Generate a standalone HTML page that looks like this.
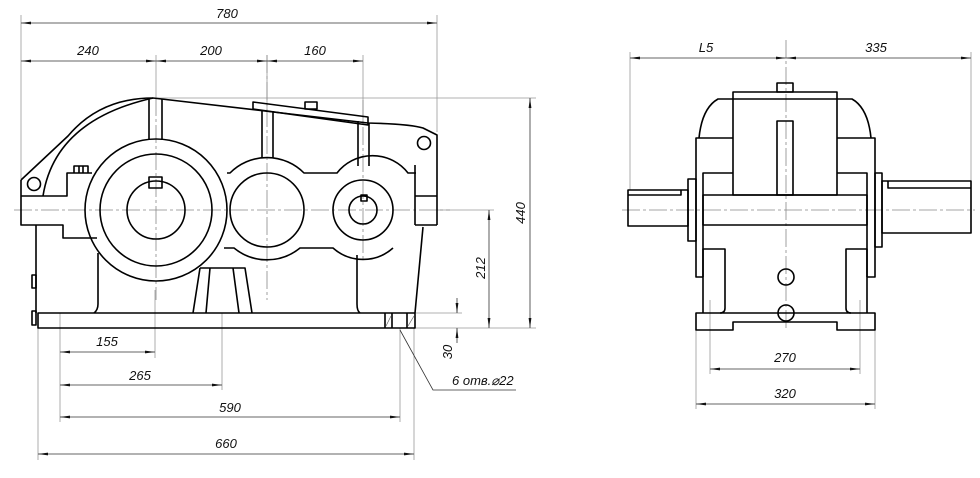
<!DOCTYPE html>
<html><head><meta charset="utf-8"><style>
html,body{margin:0;padding:0;background:#fff;}
svg{display:block}
text{font-family:"Liberation Sans",sans-serif;font-style:italic;font-size:13px;fill:#111}
</style></head><body>
<svg width="980" height="478" viewBox="0 0 980 478" xmlns="http://www.w3.org/2000/svg">
<defs>
<marker id="a" viewBox="0 0 10 4" refX="10" refY="2" markerWidth="10" markerHeight="4" orient="auto-start-reverse" markerUnits="userSpaceOnUse"><path d="M0,0.6 L10,2 L0,3.4z" fill="#111"/></marker>
</defs>
<g stroke="#999" stroke-width="0.8" fill="none">
<line x1="21" y1="15" x2="21" y2="182"/>
<line x1="156" y1="55" x2="156" y2="98"/>
<line x1="267" y1="55" x2="267" y2="110"/>
<line x1="363" y1="55" x2="363" y2="122"/>
<line x1="437" y1="15" x2="437" y2="132"/>
<line x1="155" y1="98" x2="536" y2="98"/>
<line x1="415" y1="328" x2="536" y2="328"/>
<line x1="437" y1="210" x2="494" y2="210"/>
<line x1="416" y1="313" x2="462" y2="313"/>
<line x1="60" y1="313" x2="60" y2="422"/>
<line x1="155" y1="290" x2="155" y2="358"/>
<line x1="222" y1="313" x2="222" y2="390"/>
<line x1="400" y1="328" x2="400" y2="422"/>
<line x1="38" y1="328" x2="38" y2="460"/>
<line x1="414" y1="328" x2="414" y2="460"/>
<line x1="630" y1="52" x2="630" y2="190"/>
<line x1="971" y1="52" x2="971" y2="181"/>
<line x1="710" y1="300" x2="710" y2="374"/>
<line x1="860" y1="300" x2="860" y2="374"/>
<line x1="696" y1="330" x2="696" y2="409"/>
<line x1="875" y1="330" x2="875" y2="409"/>
</g>
<g stroke="#888" stroke-width="0.8" fill="none" stroke-dasharray="18,3,3,3">
<line x1="14" y1="210" x2="450" y2="210"/>
<line x1="156" y1="98" x2="156" y2="300"/>
<line x1="267" y1="55" x2="267" y2="300"/>
<line x1="363" y1="100" x2="363" y2="260"/>
<line x1="786" y1="40" x2="786" y2="330"/>
<line x1="622" y1="210" x2="975" y2="210"/>
</g>
<g stroke="#333" stroke-width="0.8" fill="none" marker-start="url(#a)" marker-end="url(#a)">
<line x1="21" y1="23" x2="437" y2="23"/>
<line x1="21" y1="61" x2="156" y2="61"/>
<line x1="156" y1="61" x2="267" y2="61"/>
<line x1="267" y1="61" x2="363" y2="61"/>
<line x1="530" y1="98" x2="530" y2="328"/>
<line x1="489" y1="210" x2="489" y2="328"/>
<line x1="60" y1="352" x2="155" y2="352"/>
<line x1="60" y1="385" x2="222" y2="385"/>
<line x1="60" y1="417" x2="400" y2="417"/>
<line x1="38" y1="454" x2="414" y2="454"/>
<line x1="630" y1="58" x2="786" y2="58"/>
<line x1="786" y1="58" x2="971" y2="58"/>
<line x1="710" y1="369" x2="860" y2="369"/>
<line x1="696" y1="404" x2="875" y2="404"/>
</g>
<g stroke="#333" stroke-width="0.8" fill="none">
<line x1="457" y1="298" x2="457" y2="313" marker-end="url(#a)"/>
<line x1="457" y1="343" x2="457" y2="328" marker-end="url(#a)"/>
<polyline points="516,390 433,390 400,330"/>
</g>
<g stroke="#000" stroke-width="1.6" fill="none" stroke-linejoin="round">
<path d="M21,180 L68,136 Q100,98 153,98 L368,123 Q410,124 423,128 L437,135 L437,225"/>
<path d="M43,196 Q55,120 153,98"/>
<path d="M21,180 L21,225 L63,225 L63,238 L97,238"/>
<path d="M21,196 L67,196 L67,173 L92,173"/>
<circle cx="34" cy="184" r="6.5"/>
<circle cx="424" cy="143" r="6.5"/>
<path d="M74,173 V166 H88 V173 M79,166 V173 M83,166 V173"/>
<path d="M253,102 L368,117 L368,125 L253,109 Z"/>
<rect x="305" y="102" width="12" height="7"/>
<path d="M149,98 V140 M162,99 V140"/>
<path d="M262,110 V158 M273,111 V158"/>
<path d="M358,121 V166 M369,123 V166"/>
<circle cx="156" cy="210" r="71"/>
<circle cx="156" cy="210" r="56"/>
<circle cx="156" cy="210" r="29"/>
<rect x="149" y="177" width="13" height="11"/>
<path d="M227,173 H230 A52,52 0 0 1 304,173 H337 A45,45 0 0 1 408,173 H416"/>
<path d="M224,248 H234 A52,52 0 0 0 300,248 H333 A45,45 0 0 0 393,248"/>
<circle cx="267" cy="210" r="37"/>
<circle cx="363" cy="210" r="30"/>
<circle cx="363" cy="210" r="14"/>
<rect x="361" y="195" width="6" height="6"/>
<path d="M415,196 H437 M415,225 H437 M415,165 V225"/>
<path d="M423,227 L415,313"/>
<path d="M36,225 V313"/>
<path d="M98,253 V304 Q98,310 94,313"/>
<path d="M357,255 V304 Q357,311 360,313"/>
<path d="M200,268 H245 L252,313 M200,268 L193,313 M210,268 L206,313 M233,268 L239,313"/>
<rect x="38" y="313" width="377" height="15"/>
<path d="M385,313 V328 M392,313 V328 M407,313 V328"/>
<rect x="32" y="275" width="4" height="13"/>
<rect x="32" y="311" width="4" height="14"/>
</g>
<g stroke="#666" stroke-width="0.7"><line x1="386" y1="326" x2="391" y2="316"/><line x1="408" y1="326" x2="414" y2="316"/></g>
<g stroke="#000" stroke-width="1.6" fill="none" stroke-linejoin="round">
<rect x="777" y="83" width="16" height="9"/>
<rect x="733" y="92" width="104" height="103"/>
<path d="M699,138 Q702,108 718,99 H852 Q868,108 871,138"/>
<path d="M733,138 H696 V277 H703 M703,277 V173 H733"/>
<path d="M837,138 H875 V277 H867 M867,277 V173 H837"/>
<rect x="703" y="195" width="164" height="30"/>
<rect x="777" y="121" width="16" height="74"/>
<rect x="688" y="179" width="8" height="62"/>
<rect x="875" y="173" width="7" height="74"/>
<rect x="628" y="190" width="60" height="36"/>
<path d="M628,195 H681 V190"/>
<rect x="882" y="181" width="89" height="52"/>
<path d="M888,181 V188 H971"/>
<path d="M703,313 V249 H725 V308 Q725,313 720,313"/>
<path d="M867,313 V249 H846 V308 Q846,313 851,313"/>
<path d="M696,313 V330 H733 V322 H837 V330 H875 V313 Z"/>
<circle cx="786" cy="277" r="8"/>
<circle cx="786" cy="313" r="8"/>
</g>
<text x="227" y="18" text-anchor="middle">780</text>
<text x="88" y="55" text-anchor="middle">240</text>
<text x="211" y="55" text-anchor="middle">200</text>
<text x="315" y="55" text-anchor="middle">160</text>
<text x="107" y="346" text-anchor="middle">155</text>
<text x="140" y="380" text-anchor="middle">265</text>
<text x="230" y="412" text-anchor="middle">590</text>
<text x="226" y="448" text-anchor="middle">660</text>
<text x="452" y="385">6 отв.⌀22</text>
<text transform="translate(525,213) rotate(-90)" text-anchor="middle">440</text>
<text transform="translate(485,268) rotate(-90)" text-anchor="middle">212</text>
<text transform="translate(452,352) rotate(-90)" text-anchor="middle">30</text>
<text x="706" y="52" text-anchor="middle">L5</text>
<text x="876" y="52" text-anchor="middle">335</text>
<text x="785" y="362" text-anchor="middle">270</text>
<text x="785" y="398" text-anchor="middle">320</text>
</svg>
</body></html>
